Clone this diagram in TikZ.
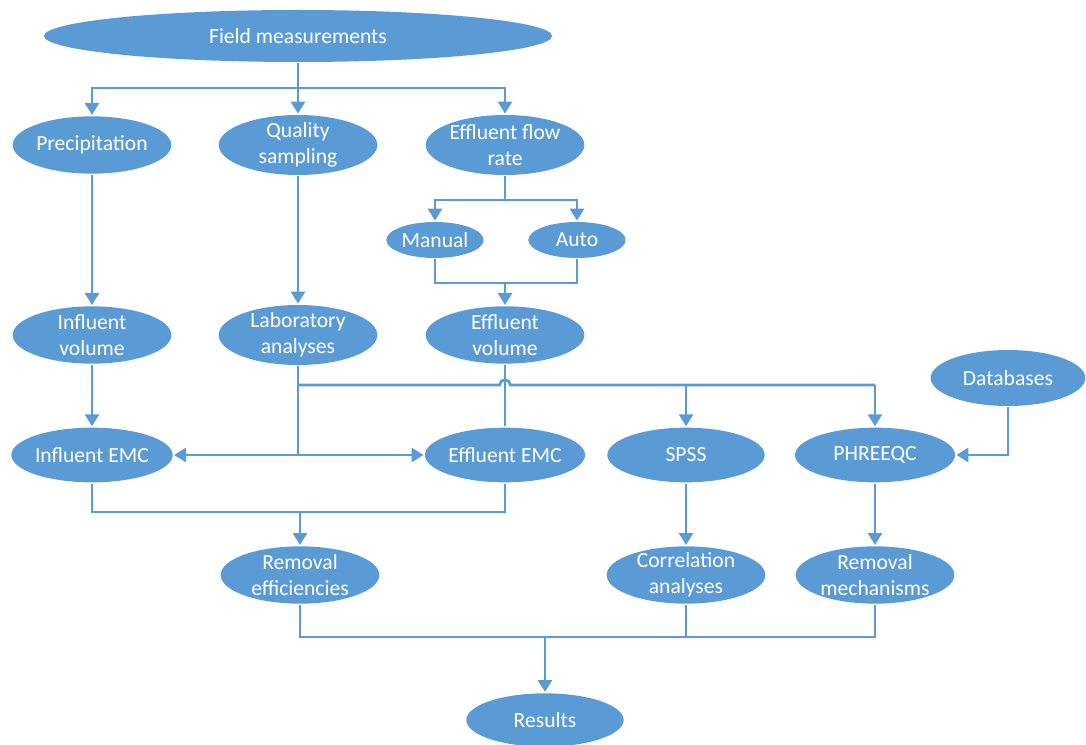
\documentclass[tikz,border=0pt]{standalone}
\usepackage{fontspec}
\setmainfont{Carlito}
\usetikzlibrary{positioning}
\usetikzlibrary{shapes.geometric}
\usetikzlibrary{arrows.meta}
\definecolor{flowblue}{RGB}{91,155,213}

\begin{document}
\begin{tikzpicture}[x=0.75pt, y=-0.75pt, line width=2pt, draw=flowblue,
    blob/.style={ellipse, fill=flowblue, text=white, align=center,
        font=\fontsize{16.2pt}{19.5pt}\selectfont,
        inner xsep=0pt, inner ysep=-14pt,
        minimum width=119pt, minimum height=43pt},
    flow/.style={-{Triangle[width=10.5pt,length=9pt]}}]
    \useasboundingbox (0,0) rectangle (1086,745);

    \node[blob, minimum width=381pt, minimum height=39pt] (fm) at (298,36) {Field measurements};

    \node[blob] (prec) at (92,145) {Precipitation};
    \node[blob, minimum height=45pt] (qs) at (298,145) {Quality\\sampling};
    \node[blob, minimum height=45pt] (efr) at (505,145) {Effluent flow\\rate};

    \node[blob, minimum width=73pt, minimum height=27pt] (man) at (435,240) {Manual};
    \node[blob, minimum width=73pt, minimum height=27pt] (autom) at (577,240) {Auto};

    \node[blob] (ivol) at (92,335) {Influent\\volume};
    \node[blob, minimum height=45pt] (lab) at (298,335) {Laboratory\\analyses};
    \node[blob] (evol) at (505,335) {Effluent\\volume};
    \node[blob, minimum width=116pt, minimum height=42pt] (db) at (1008,378) {Databases};

    \node[blob, minimum width=121pt, minimum height=41pt] (iemc) at (92,455) {Influent EMC};
    \node[blob, minimum width=118pt, minimum height=41pt] (eemc) at (505,455) {Effluent EMC};
    \node[blob, minimum width=118pt, minimum height=41pt] (spss) at (686,455) {SPSS};
    \node[blob, minimum width=120pt, minimum height=41pt] (pq) at (875,455) {PHREEQC};

    \node[blob] (reff) at (300,575) {Removal\\efficiencies};
    \node[blob] (corr) at (686,575) {Correlation\\analyses};
    \node[blob] (rmech) at (875,575) {Removal\\mechanisms};

    \node[blob, minimum width=118pt, minimum height=40pt] (res) at (545,720) {Results};

    \coordinate (b1) at (298,88);
    \coordinate (b2) at (505,200);
    \coordinate (b3) at (505,283);
    \coordinate (b4) at (298,385);
    \coordinate (b5) at (298,455);
    \coordinate (b6) at (300,512);
    \coordinate (b7) at (545,637);
    \coordinate (hop) at (evol.south |- b4);

    \draw (fm) -- (b1);
    \draw[flow] (b1) -| (prec.north);
    \draw[flow] (b1) -- (qs);
    \draw[flow] (b1) -| (efr.north);

    \draw[flow] (prec) -- (ivol);
    \draw[flow] (qs) -- (lab);
    \draw[flow] (ivol) -- (iemc);

    \draw (efr) -- (b2);
    \draw[flow] (b2) -| (man.north);
    \draw[flow] (b2) -| (autom.north);
    \draw (man.south) |- (b3) -| (autom.south);
    \draw[flow] (b3) -- (evol);

    \draw (lab) -- (b5);
    \draw[flow] (b5) -- (iemc);
    \draw[flow] (b5) -- (eemc);
    \draw (b4) -- ([xshift=-4pt]hop) arc[start angle=180, end angle=0, radius=4pt]
        -- (pq.north |- b4);
    \draw[flow] (spss.north |- b4) -- (spss);
    \draw[flow] (pq.north |- b4) -- (pq);
    \draw (evol) -- (eemc);
    \draw[flow] (db.south) |- (pq.east);

    \draw (iemc.south) |- (b6) -| (eemc.south);
    \draw[flow] (b6) -- (reff);
    \draw[flow] (spss) -- (corr);
    \draw[flow] (pq) -- (rmech);

    \draw (reff.south) |- (b7);
    \draw (corr.south) -- (corr.south |- b7);
    \draw (rmech.south) |- (b7);
    \draw[flow] (b7) -- (res);
\end{tikzpicture}
\end{document}
